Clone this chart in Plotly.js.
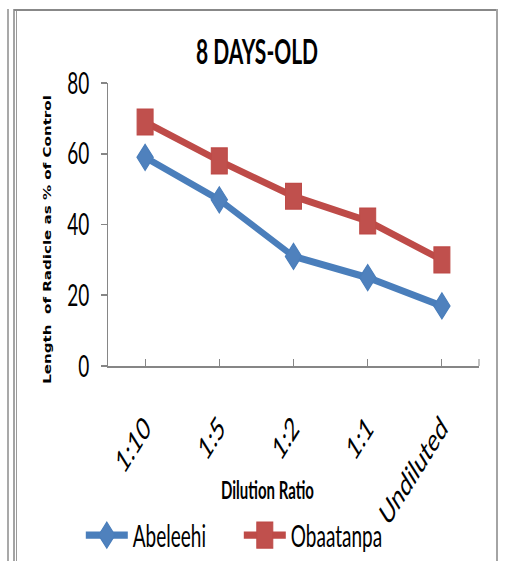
<!DOCTYPE html>
<html>
<head>
<meta charset="utf-8">
<script src="https://cdn.plot.ly/plotly-3.0.1.min.js"></script>
<style>
  html, body { margin: 0; padding: 0; background: #fff; overflow: hidden; }
  #page { position: relative; width: 505px; height: 561px; overflow: hidden; }
  #chart { position: absolute; left: 0; top: 0; width: 505px; height: 351px; }
  .rule { position: absolute; }
</style>
</head>
<body>
<div id="page">
  <div id="chart"></div>
  <!-- panel frame lines -->
  <div class="rule" style="left:7px;top:9px;width:2px;height:552px;background:#a9a9a9"></div>
  <div class="rule" style="left:13px;top:9px;width:2px;height:552px;background:#a4a4a4"></div>
  <div class="rule" style="left:16px;top:11px;width:1px;height:550px;background:#9a9a9a"></div>
  <div class="rule" style="left:14px;top:9px;width:484px;height:2px;background:#888"></div>
  <div class="rule" style="left:496px;top:9px;width:2px;height:552px;background:#a4a4a4"></div>
</div>
<script>
// Radicle length (% of control) after 8 days, by dilution ratio
const categories = ['1:10', '1:5', '1:2', '1:1', 'Undiluted'];
const abeleehi = [59, 47, 31, 25, 17];
const obaatanpa = [69, 58, 48, 41, 30];
const yTicks = [0, 20, 40, 60, 80];

// The chart is laid out at a compressed height and stretched vertically
const STRETCH = 561 / 351;
const axisGray = '#868686';

const traces = [
  {
    x: categories, y: abeleehi, name: 'Abeleehi', type: 'scatter', mode: 'lines+markers',
    line: { color: '#4A7EBB', width: 4.5 },
    marker: { symbol: 'diamond', size: 12.5, color: '#4F81BD', line: { color: '#4A7EBB', width: 1 } }
  },
  {
    x: categories, y: obaatanpa, name: 'Obaatanpa', type: 'scatter', mode: 'lines+markers',
    line: { color: '#BE4B48', width: 4.5 },
    marker: { symbol: 'square', size: 16, color: '#C0504D', line: { color: '#BE4B48', width: 1 } }
  }
];

const layout = {
  width: 505, height: 351,
  margin: { l: 108, r: 26, t: 52, b: 122, pad: 0 },
  paper_bgcolor: '#fff', plot_bgcolor: '#fff',
  showlegend: true,
  title: {
    text: '8 DAYS-OLD',
    font: { family: 'Lato, sans-serif', size: 21, weight: 700, color: '#000' },
    xref: 'container', x: 0.509, xanchor: 'center',
    yref: 'container', y: 0.907, yanchor: 'middle'
  },
  xaxis: {
    type: 'category', range: [-0.5, 4.5],
    showline: true, linecolor: axisGray, linewidth: 1,
    ticks: 'inside', ticklen: 4.4, tickcolor: axisGray, tickwidth: 1,
    tickangle: -45, ticklabelstandoff: 18,
    tickfont: { family: 'Lato, sans-serif', size: 20, color: '#000' },
    showgrid: false, zeroline: false, fixedrange: true
  },
  yaxis: {
    range: [0, 80], tickvals: yTicks, ticktext: yTicks.map(String),
    showline: true, linecolor: axisGray, linewidth: 1,
    ticks: 'outside', ticklen: 6, tickcolor: axisGray, tickwidth: 1,
    ticklabelstandoff: 8,
    tickfont: { family: 'Lato, sans-serif', size: 19, color: '#000' },
    showgrid: false, zeroline: false, fixedrange: true
  },
  legend: {
    orientation: 'h',
    xref: 'container', yref: 'container',
    x: 0.16, xanchor: 'left', y: 0.0456, yanchor: 'middle',
    itemwidth: 42, entrywidth: 101,
    font: { family: 'Lato, sans-serif', size: 19, color: '#000' },
    bgcolor: 'rgba(0,0,0,0)', borderwidth: 0
  },
  annotations: [
    {
      text: 'Dilution Ratio', showarrow: false,
      xref: 'paper', yref: 'paper', x: 0.431, y: -0.436,
      xanchor: 'center', yanchor: 'middle',
      font: { family: 'Lato, sans-serif', size: 15, weight: 700, color: '#000' }
    },
    {
      text: 'Length\u00a0 of Radicle as % of Control', showarrow: false, textangle: -90,
      xref: 'paper', yref: 'paper', x: -0.164, y: 0.446,
      xanchor: 'center', yanchor: 'middle',
      font: { family: '"DejaVu Sans Condensed", "DejaVu Sans", sans-serif', size: 10.5, weight: 700, color: '#000' }
    }
  ],
  shapes: [
    // closing tick at the right end of the category axis
    { type: 'line', xref: 'paper', yref: 'paper', x0: 1, x1: 1, y0: 0, y1: 0.025,
      line: { color: axisGray, width: 1 } }
  ]
};

Plotly.newPlot('chart', traces, layout, { displayModeBar: false, staticPlot: true }).then(function () {
  const el = document.getElementById('chart');
  el.style.transformOrigin = '0 0';
  el.style.transform = 'scaleY(' + STRETCH + ')';
});
</script>
</body>
</html>
